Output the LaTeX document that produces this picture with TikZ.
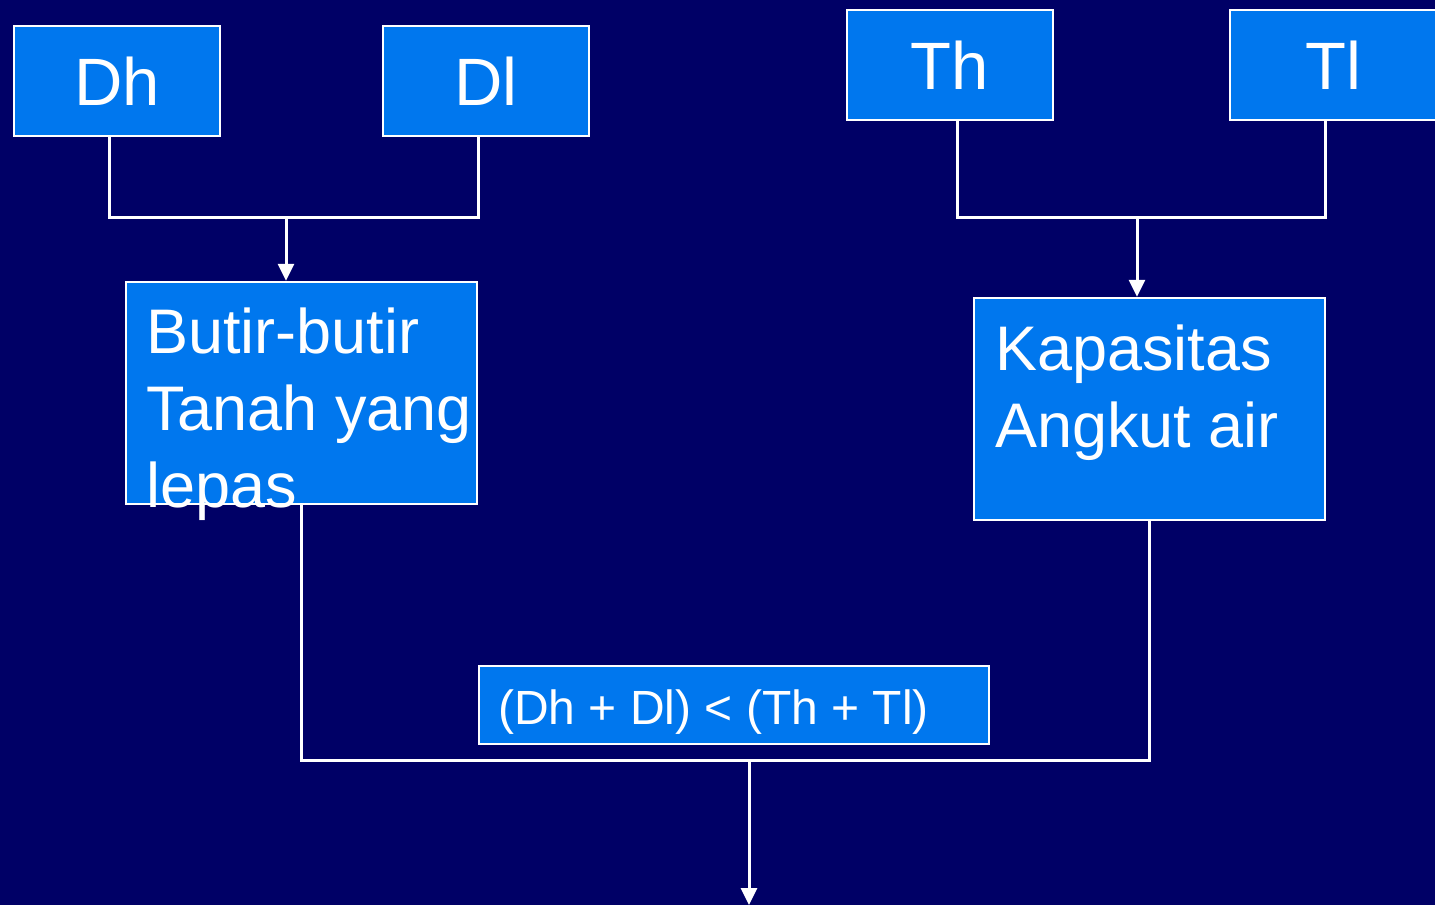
\documentclass[tikz,border=0pt]{standalone}
\usepackage{fontspec}
\setmainfont{Liberation Sans}
\usetikzlibrary{arrows.meta}
\definecolor{bg}{HTML}{000066}
\definecolor{boxblue}{HTML}{0077EE}
\begin{document}
\begin{tikzpicture}[x=1pt,y=-1pt,
  box/.style={draw=white, line width=2.5pt, fill=boxblue, inner sep=0pt, text=white},
  smallbox/.style={box, minimum width=206pt, minimum height=110pt, font=\fontsize{67}{80}\selectfont},
  bigbox/.style={box, minimum width=351pt, minimum height=222pt},
  conn/.style={draw=white, line width=3pt},
  arr/.style={conn, -{Triangle[width=16pt,length=17pt]}},
  txt/.style={text=white, inner sep=0pt, align=left, anchor=base west, font=\fontsize{63}{77}\selectfont}]
\useasboundingbox (0,0) rectangle (1435,905);
\fill[bg] (0,0) rectangle (1435,905);
\clip (0,0) rectangle (1435,905);

% top boxes
\node[smallbox] (Dh) at (117,81) {Dh};
\node[smallbox] (Dl) at (486,81) {Dl};
\node[smallbox] (Th) at (950,65) {Th};
\node[smallbox] (Tl) at (1333,65) {Tl};

% middle boxes
\node[bigbox] (Butir) at (301.5,393) {};
\node[txt] (butirtxt) at (146,507) {Butir-butir\\Tanah yang\\lepas};
\node[bigbox] (Kap) at (1149.5,409) {};
\node[txt] (kaptxt) at (995,447) {Kapasitas\\Angkut air};

% equation box
\node[box, minimum width=510pt, minimum height=78pt] (Eq) at (734,705) {};
\node[text=white, inner sep=0pt, anchor=base west, font=\fontsize{48}{56}\selectfont] (eqtxt) at (498,724) {(Dh + Dl) < (Th + Tl)};

% junctions
\coordinate (j1) at (286,217);
\coordinate (j2) at (1137,217);
\coordinate (j3) at (749,760);
\coordinate (j4) at (749,905);

% connectors
\draw[conn] ([xshift=-8pt]Dh.south) -- ([xshift=-8pt]Dh.south |- j1) -- ([xshift=-8pt]Dl.south |- j1) -- ([xshift=-8pt]Dl.south);
\draw[arr] (j1) -- (j1 |- Butir.north);
\draw[conn] ([xshift=7pt]Th.south) -- ([xshift=7pt]Th.south |- j2) -- ([xshift=-8pt]Tl.south |- j2) -- ([xshift=-8pt]Tl.south);
\draw[arr] (j2) -- (j2 |- Kap.north);
\draw[conn] (Butir.south) -- (Butir.south |- j3) -- (Kap.south |- j3) -- (Kap.south);
\draw[arr] (j3) -- (j4);
\end{tikzpicture}
\end{document}
